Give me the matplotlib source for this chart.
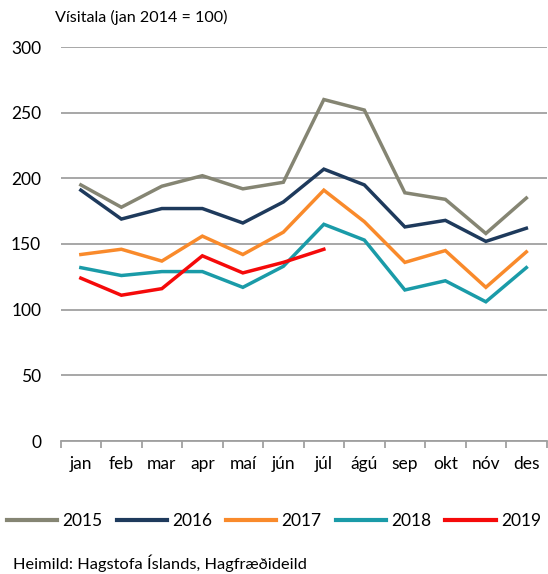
import matplotlib
matplotlib.use("Agg")
import matplotlib.pyplot as plt
import numpy as np

plt.rcParams['font.family'] = ['Lato', 'DejaVu Sans']

months = ["jan", "feb", "mar", "apr", "maí", "jún", "júl", "ágú", "sep", "okt", "nóv", "des"]
v2015 = [195, 178, 194, 202, 192, 197, 260, 252, 189, 184, 158, 185]
v2016 = [191, 169, 177, 177, 166, 182, 207, 195, 163, 168, 152, 162]
v2017 = [142, 146, 137, 156, 142, 159, 191, 167, 136, 145, 117, 144]
v2018 = [132, 126, 129, 129, 117, 133, 165, 153, 115, 122, 106, 132]
v2019 = [124, 111, 116, 141, 128, 136, 146]
series = [("2015", v2015, "#858573"), ("2016", v2016, "#1E3A5C"),
          ("2017", v2017, "#F98A2B"), ("2018", v2018, "#1A9BA8"),
          ("2019", v2019, "#F50A0A")]
yticks = [0, 50, 100, 150, 200, 250, 300]

W, H = 548, 574
fig = plt.figure(figsize=(W/100, H/100), dpi=100)
ax = fig.add_axes([60.6/W, 1-441/H, 486/W, 394/H])

x = np.arange(len(months))
for name, vals, col in series:
    ax.plot(x[:len(vals)], vals, color=col, lw=2.5, label=name, solid_joinstyle='miter')

ax.set_xlim(-0.5, 11.5)
ax.set_ylim(0, 300)
ax.set_yticks(yticks)
ax.set_yticklabels([str(t) for t in yticks], fontsize=12.5)
ax.yaxis.grid(True, color="#A0A0A0", lw=1.3)
ax.set_axisbelow(True)
ax.tick_params(axis='y', length=0, pad=14)
for s in ["top", "right", "left"]:
    ax.spines[s].set_visible(False)
ax.spines["bottom"].set_color("#A0A0A0")
ax.spines["bottom"].set_linewidth(1.3)
ax.set_xticks(np.arange(-0.5, 12, 1))
ax.set_xticklabels([])
ax.set_xticks(x, minor=True)
ax.set_xticklabels(months, minor=True, fontsize=12.5)
ax.tick_params(axis='x', which='major', length=5, color="#A0A0A0", width=1.3)
ax.tick_params(axis='x', which='minor', length=0, pad=11)

fig.text(55/W, 1-17/H, "Vísitala (jan 2014 = 100)", fontsize=11.6, va='center', ha='left')
fig.text(13/W, 1-563/H, "Heimild: Hagstofa Íslands, Hagfræðideild", fontsize=11.8, va='center', ha='left')

leg = fig.legend(loc='center', bbox_to_anchor=(0.5, 1-521/H), ncol=5, frameon=False,
                 fontsize=12.5, handlelength=2.9, handletextpad=0.3, columnspacing=0.8,
                 borderaxespad=0, borderpad=0)
for l in leg.get_lines():
    l.set_linewidth(3)

fig.savefig("out.png", dpi=100)
